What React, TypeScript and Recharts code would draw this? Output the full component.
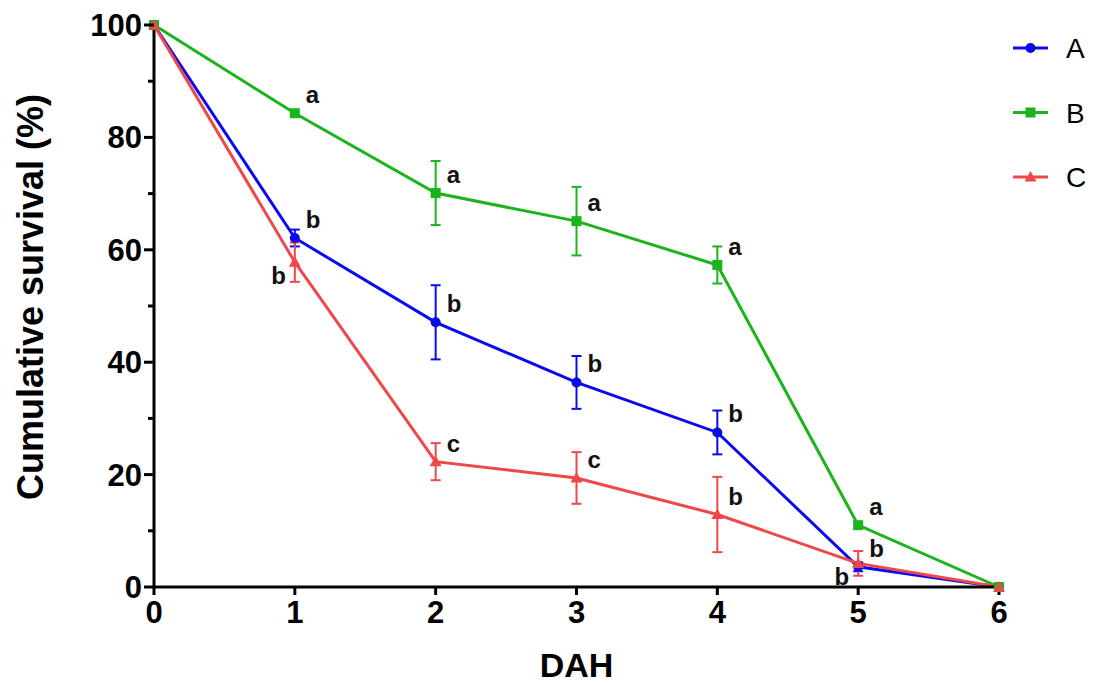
import { LineChart, Line, XAxis, YAxis, ErrorBar, Legend, LabelList } from 'recharts';

// days after hatching
const days = [0, 1, 2, 3, 4, 5, 6];

// mean cumulative survival (%) and error per group
const meanA = [100, 62.1, 47.1, 36.4, 27.5, 3.6, 0];
const errA = [0, 1.5, 6.6, 4.7, 3.9, 0.8, 0];
const meanB = [100, 84.3, 70.1, 65.1, 57.3, 11.0, 0];
const errB = [0, 0, 5.7, 6.1, 3.3, 0, 0];
const meanC = [100, 57.8, 22.3, 19.4, 12.9, 4.2, 0];
const errC = [0, 3.5, 3.3, 4.6, 6.7, 2.2, 0];

// significance letters
const lettersA = ['', 'b', 'b', 'b', 'b', 'b', ''];
const lettersB = ['', 'a', 'a', 'a', 'a', 'a', ''];
const lettersC = ['', 'b', 'c', 'c', 'b', 'b', ''];

const yTicks = [0, 10, 20, 30, 40, 50, 60, 70, 80, 90, 100];
const xTicks = [0, 1, 2, 3, 4, 5, 6];

const rows = days.map((d, i) => ({
  day: d,
  A: meanA[i], errA: errA[i], letterA: lettersA[i],
  B: meanB[i], errB: errB[i], letterB: lettersB[i],
  C: meanC[i], errC: errC[i], letterC: lettersC[i],
}));

const FONT = 'Arial, "Liberation Sans", sans-serif';
const W = 1093;
const H = 683;
const LEFT = 154;
const BOTTOM = 96;
const TOP = 25;
const RIGHT = 94;

const COLORS = { A: '#0a0aee', B: '#1cb41c', C: '#f04848' };
const SHAPES: Record<string, string> = { A: 'circle', B: 'square', C: 'triangle' };

// letters drawn below-left of the point instead of above-right
const lowerLeftC = [1, 5];

function Marker({ cx, cy, shape, color }: { cx: number; cy: number; shape: string; color: string }) {
  if (shape === 'square') return <rect x={cx - 5} y={cy - 5} width={10} height={10} fill={color} />;
  if (shape === 'triangle')
    return <polygon points={`${cx},${cy - 6} ${cx + 6},${cy + 4.5} ${cx - 6},${cy + 4.5}`} fill={color} />;
  return <circle cx={cx} cy={cy} r={5} fill={color} />;
}

const dotFor = (key: string) => (p: any) =>
  <Marker key={`${key}-${p.index}`} cx={p.cx} cy={p.cy} shape={SHAPES[key]} color={COLORS[key as keyof typeof COLORS]} />;

const letterFor = (key: string) => (p: any) => {
  const { x, y, value, index } = p;
  if (!value) return null;
  const lower = key === 'C' && lowerLeftC.includes(index);
  return (
    <text
      key={`${key}-l-${index}`}
      x={lower ? x - 9 : x + 11}
      y={lower ? y + 22 : y - 10}
      textAnchor={lower ? 'end' : 'start'}
      fontFamily={FONT}
      fontWeight="bold"
      fontSize={24}
      fill="#111"
    >
      {value}
    </text>
  );
};

function YTick({ y, payload }: any) {
  const major = payload.value % 20 === 0;
  return (
    <g>
      <line x1={LEFT - (major ? 10 : 6)} x2={LEFT} y1={y} y2={y} stroke="#000" strokeWidth={3} />
      {major && (
        <text x={LEFT - 12} y={y + 11} textAnchor="end" fontFamily={FONT} fontWeight="bold" fontSize={31} fill="#000">
          {payload.value}
        </text>
      )}
    </g>
  );
}

function YTitle() {
  return (
    <text
      transform="translate(43, 297) rotate(-90)"
      textAnchor="middle"
      fontFamily={FONT}
      fontWeight="bold"
      fontSize={36}
      fill="#000"
    >
      Cumulative survival (%)
    </text>
  );
}

function LegendBox({ payload }: any) {
  return (
    <svg width={88} height={220}>
      {(payload || []).map((entry: any, i: number) => {
        const cy = 48 + i * 64.5;
        const key = entry.dataKey as string;
        return (
          <g key={key}>
            <line x1={8} x2={43} y1={cy} y2={cy} stroke={entry.color} strokeWidth={3} />
            <Marker cx={25.5} cy={cy} shape={SHAPES[key]} color={entry.color} />
            <text x={61} y={cy + 10} fontFamily={FONT} fontSize={28} fill="#000">
              {entry.value}
            </text>
          </g>
        );
      })}
    </svg>
  );
}

export default function App() {
  return (
    <div style={{ position: 'absolute', left: 0, top: 0, background: '#fff' }}>
      <LineChart width={W} height={H} data={rows} margin={{ top: TOP, right: RIGHT, left: 0, bottom: 0 }}>
        <XAxis
          dataKey="day"
          type="number"
          domain={[0, 6]}
          ticks={xTicks}
          height={BOTTOM}
          axisLine={{ stroke: '#000', strokeWidth: 3 }}
          tickLine={{ stroke: '#000', strokeWidth: 3 }}
          tickSize={8}
          tickMargin={6}
          tick={{ fill: '#000', fontFamily: FONT, fontWeight: 'bold', fontSize: 31 }}
          label={{ value: 'DAH', position: 'insideBottom', offset: 6, fill: '#000', fontFamily: FONT, fontWeight: 'bold', fontSize: 34 }}
        />
        <YAxis
          type="number"
          domain={[0, 100]}
          ticks={yTicks}
          width={LEFT}
          interval={0}
          axisLine={{ stroke: '#000', strokeWidth: 3 }}
          tickLine={false}
          tick={<YTick />}
          label={<YTitle />}
        />
        <Legend
          layout="vertical"
          align="center"
          verticalAlign="middle"
          content={<LegendBox />}
          wrapperStyle={{ left: 1005, top: 0, width: 88, height: 220 }}
        />
        <Line dataKey="A" name="A" stroke={COLORS.A} strokeWidth={3} dot={dotFor('A')} isAnimationActive={false}>
          <ErrorBar dataKey="errA" direction="y" width={5} stroke={COLORS.A} strokeWidth={2} />
          <LabelList dataKey="letterA" content={letterFor('A')} />
        </Line>
        <Line dataKey="B" name="B" stroke={COLORS.B} strokeWidth={3} dot={dotFor('B')} isAnimationActive={false}>
          <ErrorBar dataKey="errB" direction="y" width={5} stroke={COLORS.B} strokeWidth={2} />
          <LabelList dataKey="letterB" content={letterFor('B')} />
        </Line>
        <Line dataKey="C" name="C" stroke={COLORS.C} strokeWidth={3} dot={dotFor('C')} isAnimationActive={false}>
          <ErrorBar dataKey="errC" direction="y" width={5} stroke={COLORS.C} strokeWidth={2} />
          <LabelList dataKey="letterC" content={letterFor('C')} />
        </Line>
      </LineChart>
    </div>
  );
}
